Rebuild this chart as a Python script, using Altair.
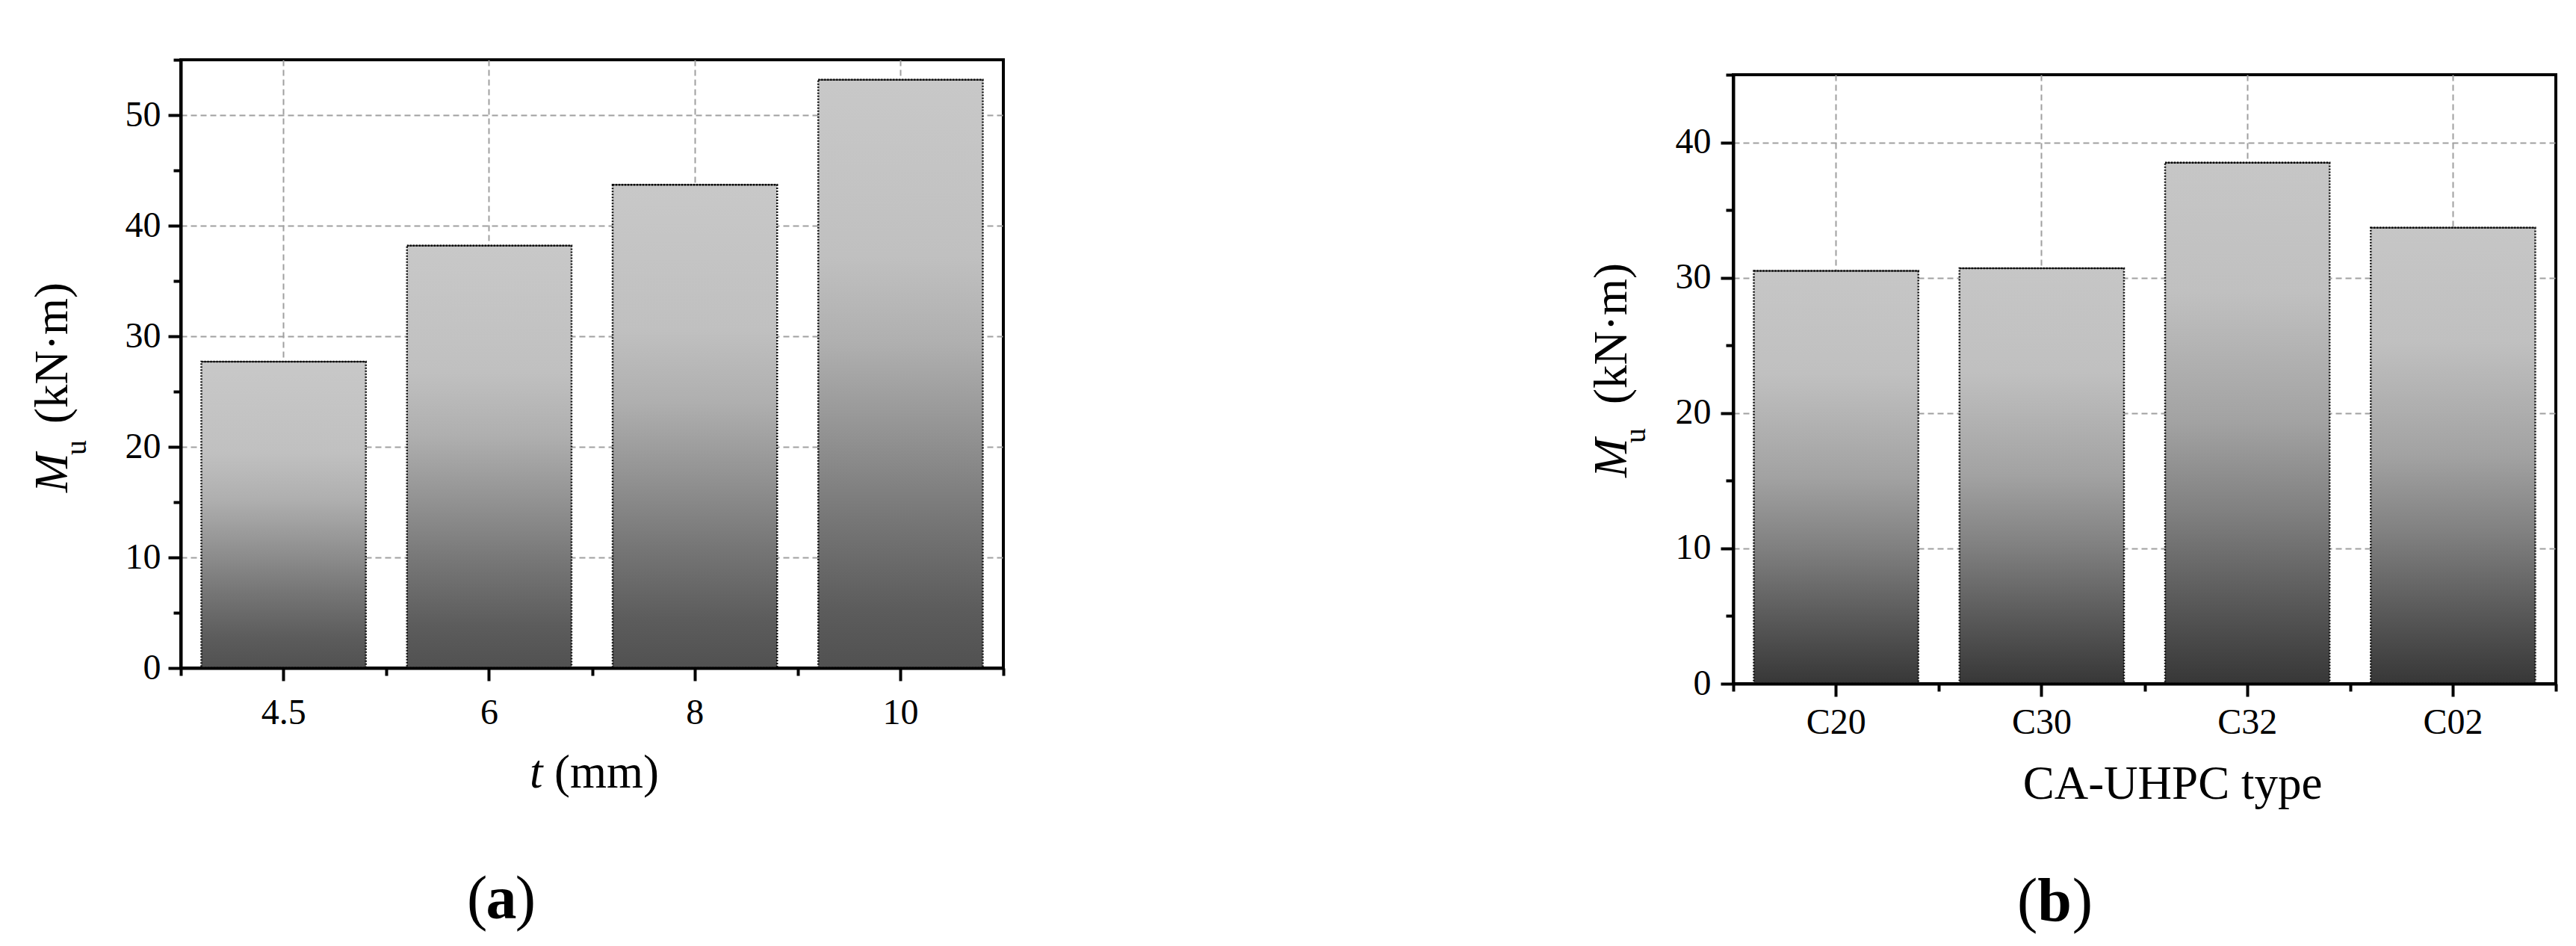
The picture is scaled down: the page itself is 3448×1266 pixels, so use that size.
import altair as alt
import pandas as pd

# ---------------- data ----------------
a_categories = ["4.5", "6", "8", "10"]
a_values = [27.7, 38.2, 43.7, 53.2]
a_y_max = 55
a_y_major = [0, 10, 20, 30, 40, 50]
a_y_minor = [5, 15, 25, 35, 45, 55]

b_categories = ["C20", "C30", "C32", "C02"]
b_values = [30.5, 30.7, 38.5, 33.7]
b_y_max = 45
b_y_major = [0, 10, 20, 30, 40]
b_y_minor = [5, 15, 25, 35, 45]

# band boundaries (in units of category steps) where the minor x ticks sit
x_minor_steps = [0, 1, 2, 3, 4]

FONT = "Liberation Serif"
W = 1101

a_stops = [(0, "#c8c8c8"), (0.3, "#c0c0c0"), (0.45, "#afafaf"), (0.6, "#939393"),
           (0.75, "#767676"), (0.9, "#5c5c5c"), (1, "#515151")]
b_stops = [(0, "#c6c6c6"), (0.25, "#c0c0c0"), (0.5, "#a2a2a2"), (0.67, "#808080"),
           (0.83, "#5c5c5c"), (1, "#373737")]


def txt(text, x, y, size, style="normal", weight="normal", angle=0, align="left"):
    return alt.Chart(pd.DataFrame({"t": [text]})).mark_text(
        font=FONT, fontSize=size, fontStyle=style, fontWeight=weight, angle=angle,
        align=align, baseline="alphabetic", color="black"
    ).encode(text="t:N", x=alt.value(x), y=alt.value(y))


def panel(cats, vals, ymax, major, minor, stops, height, xlab_pad, ylab_pad, texts):
    df = pd.DataFrame({"cat": cats, "val": vals})
    xscale = alt.Scale(paddingInner=0.2, paddingOuter=0.1)
    yscale = alt.Scale(domain=[0, ymax], nice=False, zero=True)
    base = alt.Chart(df)
    bars = base.mark_bar(
        fill=alt.Gradient(gradient="linear", x1=0, x2=0, y1=0, y2=1,
                          stops=[alt.GradientStop(offset=o, color=c) for o, c in stops]),
        stroke="#111111", strokeWidth=2.5, strokeDash=[2, 2]
    ).encode(
        x=alt.X("cat:N", sort=cats, scale=xscale, axis=alt.Axis(
            orient="bottom", title=None, labelAngle=0, labelFont=FONT, labelFontSize=48,
            labelColor="black", labelPadding=xlab_pad, tickSize=17, tickWidth=4,
            tickColor="black", domain=False, grid=True, gridColor="#a0a0a0",
            gridDash=[8, 5], gridWidth=2, zindex=0)),
        y=alt.Y("val:Q", scale=yscale, axis=alt.Axis(
            orient="left", title=None, values=major, labelFont=FONT, labelFontSize=48,
            labelColor="black", labelPadding=ylab_pad, tickSize=17, tickWidth=4,
            tickColor="black", domain=False, grid=True, gridColor="#a0a0a0",
            gridDash=[8, 5], gridWidth=2, zindex=0)),
    )
    minor_y = base.mark_point(opacity=0).encode(
        y=alt.Y("val:Q", scale=yscale, axis=alt.Axis(
            orient="left", title=None, labels=False, values=minor, tickSize=10,
            tickWidth=4, tickColor="black", domain=True, domainColor="black",
            domainWidth=4, grid=False, zindex=1)),
    )
    minor_x = alt.Chart(pd.DataFrame({"pos": x_minor_steps})).mark_point(opacity=0).encode(
        x=alt.X("pos:Q", scale=alt.Scale(domain=[0, len(cats)], nice=False, zero=False),
                axis=alt.Axis(orient="bottom", title=None, labels=False,
                              values=x_minor_steps, tickSize=10, tickWidth=4,
                              tickColor="black", domain=True, domainColor="black",
                              domainWidth=4, grid=False, zindex=1)),
    )
    tops = base.mark_tick(color="black", thickness=2, size=220, orient="horizontal").encode(
        x=alt.X("cat:N", sort=cats, scale=xscale, axis=None),
        y=alt.Y("val:Q", scale=yscale, axis=None))
    return alt.layer(bars, tops, minor_y, minor_x, *texts).resolve_scale(
        x="independent"
    ).resolve_axis(
        x="independent", y="independent"
    ).properties(width=W, height=height,
                 view=alt.ViewBackground(stroke="black", strokeWidth=4))


a_texts = [
    txt("M", -152, 579, 63, style="italic", angle=270),
    txt("u", -127, 529, 40, angle=270),
    txt("(kN·m)", -152, 487, 63, angle=270),
    txt("t", 467, 974, 63, style="italic"),
    txt("(mm)", 500, 974, 63),
    txt("(", 383, 1149, 82),
    txt("a", 429, 1149, 82, weight="bold", align="center"),
    txt(")", 475, 1149, 82, align="right"),
]
b_texts = [
    txt("M", -143, 539, 63, style="italic", angle=270),
    txt("u", -118, 493, 40, angle=270),
    txt("(kN·m)", -143, 441, 63, angle=270),
    txt("CA-UHPC type", 588, 969, 63, align="center"),
    txt("(", 380, 1132, 82),
    txt("b", 430, 1132, 82, weight="bold", align="center"),
    txt(")", 481, 1132, 82, align="right"),
]

panel_a = panel(a_categories, a_values, a_y_max, a_y_major, a_y_minor, a_stops,
                814, 19, 10, a_texts)
panel_b = panel(b_categories, b_values, b_y_max, b_y_major, b_y_minor, b_stops,
                815, 11, 13, b_texts)

spacer = alt.Chart(pd.DataFrame({"t": [""]})).mark_text().encode(text="t:N").properties(
    width=1, height=16)

chart = alt.hconcat(
    panel_a, alt.vconcat(spacer, panel_b, spacing=0), spacing=777
).properties(
    padding={"left": 30, "top": 68, "right": 5, "bottom": 5},
    background="white",
).configure_view(stroke=None)

chart.save("out.html", embed_options={"renderer": "svg", "actions": False})
